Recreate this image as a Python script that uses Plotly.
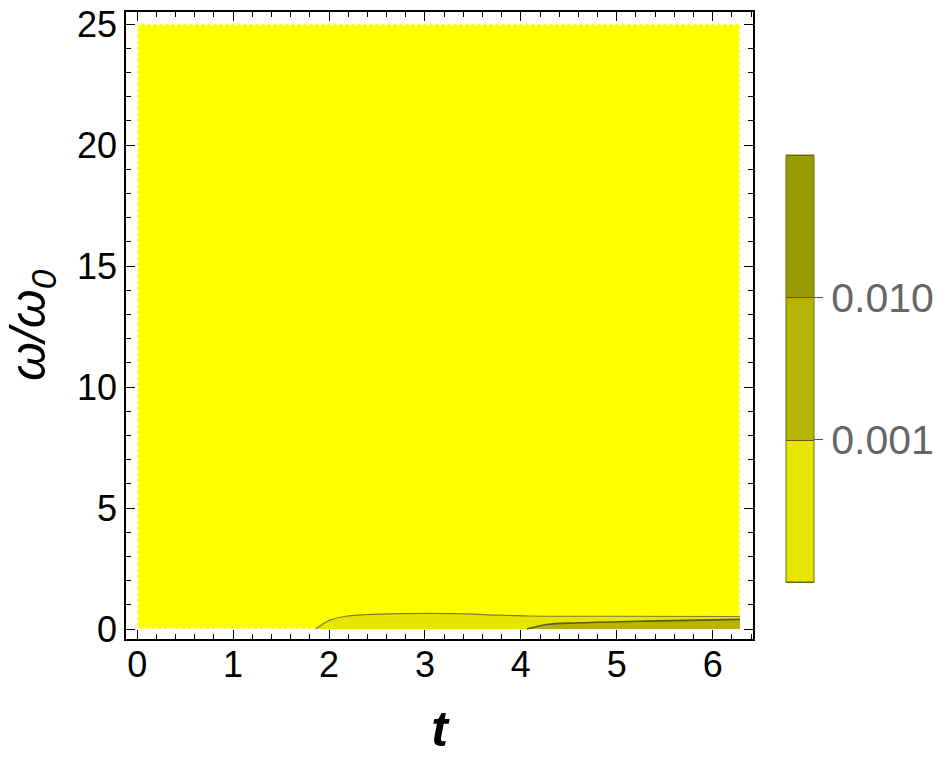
import math
import plotly.graph_objects as go

# ── data ────────────────────────────────────────────────────────────────────
T_MAX = 2 * math.pi          # t runs from 0 to 2π
W_MAX = 25.0                 # ω/ω0 runs from 0 to 25

# boundary of the 0.0001 level (yellow -> first band)
outer_t = [1.86, 2.01, 2.19, 2.53, 3.05, 3.40, 3.75, 4.09, 5.00, T_MAX]
outer_w = [0.00, 0.37, 0.54, 0.62, 0.65, 0.63, 0.58, 0.54, 0.53, 0.52]

# boundary of the 0.001 level (first band -> second band)
inner_t = [4.06, 4.27, 4.62, 5.31, T_MAX]
inner_w = [0.00, 0.19, 0.26, 0.33, 0.40]

# colour-bar levels (log10 of the value)
levels = [-4, -3, -2, -1]
tick_vals = [-3, -2]
tick_text = ["0.001", "0.010"]

BG_YELLOW = "#ffff00"
BAND = ["#e6e600", "#b5b500", "#999900"]
FONT = "Liberation Sans, Arial"

fig = go.Figure()

# background region (value below lowest level)
fig.add_trace(go.Scatter(
    x=[0, T_MAX, T_MAX, 0, 0], y=[0, 0, W_MAX, W_MAX, 0],
    mode="lines", fill="toself", fillcolor=BG_YELLOW,
    line=dict(color="white", width=2.5, dash="dot"),
    hoverinfo="skip", showlegend=False,
))

# first band
fig.add_trace(go.Scatter(
    x=outer_t + [outer_t[-1], outer_t[0]],
    y=outer_w + [0, 0],
    mode="lines", fill="toself", fillcolor=BAND[0],
    line=dict(width=0), hoverinfo="skip", showlegend=False,
))
# second band
fig.add_trace(go.Scatter(
    x=inner_t + [inner_t[-1], inner_t[0]],
    y=inner_w + [0, 0],
    mode="lines", fill="toself", fillcolor=BAND[1],
    line=dict(width=0), hoverinfo="skip", showlegend=False,
))
# contour lines
fig.add_trace(go.Scatter(
    x=outer_t, y=outer_w, mode="lines",
    line=dict(color="#7c7c3c", width=1.2, shape="spline"),
    hoverinfo="skip", showlegend=False,
))
fig.add_trace(go.Scatter(
    x=inner_t, y=inner_w, mode="lines",
    line=dict(color="#5c5c1c", width=1.6, shape="spline"),
    hoverinfo="skip", showlegend=False,
))

# colour bar from a contour trace on hidden axes
fig.add_trace(go.Contour(
    z=[[levels[0], levels[-1]], [levels[0], levels[-1]]],
    x=[0, 1], y=[0, 1],
    xaxis="x2", yaxis="y2",
    contours=dict(start=levels[0], end=levels[-1], size=1, coloring="fill"),
    zmin=levels[0], zmax=levels[-1],
    colorscale=[[0, BAND[0]], [1 / 3, BAND[0]], [1 / 3, BAND[1]], [2 / 3, BAND[1]],
                [2 / 3, BAND[2]], [1, BAND[2]]],
    line=dict(color="#5e5e10", width=1),
    hoverinfo="skip",
    colorbar=dict(
        tickmode="array", tickvals=tick_vals, ticktext=tick_text,
        ticks="outside", ticklen=9, tickcolor="#555555", tickwidth=1,
        tickfont=dict(family=FONT, size=41, color="#666666"),
        thickness=28, thicknessmode="pixels",
        len=427, lenmode="pixels",
        x=1.0533, xanchor="left", xpad=0,
        y=0.431, yanchor="middle", ypad=0,
        outlinecolor="#6e6e10", outlinewidth=1,
    ),
))

axis_common = dict(
    showline=True, linecolor="black", linewidth=1.5, mirror="allticks",
    ticks="inside", ticklen=9, tickwidth=1, tickcolor="black",
    showgrid=False, zeroline=False, ticklabeloverflow="allow",
    tickfont=dict(family=FONT, size=36, color="black"),
)

fig.update_layout(
    width=946, height=761,
    paper_bgcolor="white", plot_bgcolor="white",
    margin=dict(l=125.5, r=192.5, t=11.7, b=122, autoexpand=False),
    xaxis=dict(
        **axis_common,
        range=[-0.117, 6.42], tick0=0, dtick=1, ticklabelstandoff=-7,
        minor=dict(ticks="inside", ticklen=5, dtick=0.2, tickcolor="black"),
        title=dict(text="<b><i>t</i></b>", standoff=27,
                   font=dict(family=FONT, size=50, color="black")),
    ),
    yaxis=dict(
        **axis_common,
        range=[-0.41, 25.5], tick0=0, dtick=5,
        minor=dict(ticks="inside", ticklen=5, dtick=1, tickcolor="black"),
        title=dict(text="<i>ω/ω<sub>0</sub></i>", standoff=20,
                   font=dict(family=FONT, size=50, color="black")),
    ),
    xaxis2=dict(overlaying="x", visible=False, range=[10, 11]),
    yaxis2=dict(overlaying="y", visible=False, range=[10, 11]),
)

# drop the default 8px page margin so the figure fills the window exactly
fig.write_html("out.html", config={"displayModeBar": False},
               post_script="document.body.style.margin='0';")
